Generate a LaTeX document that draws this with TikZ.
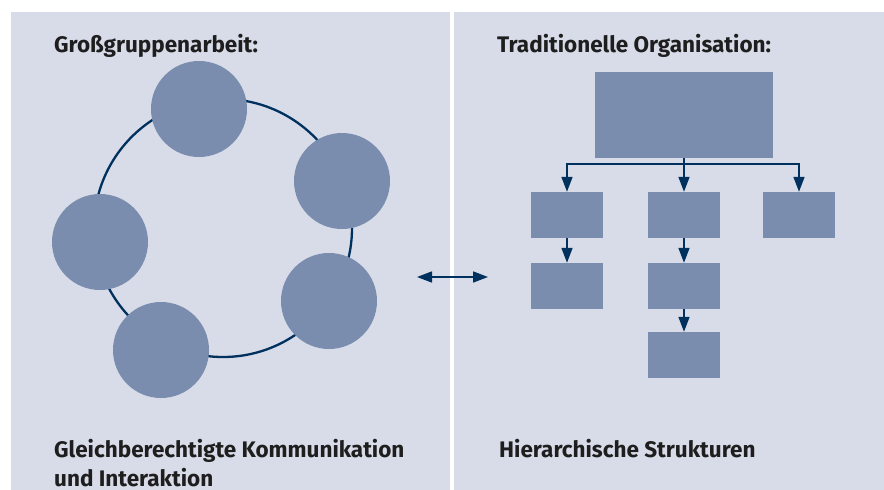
\documentclass[tikz,border=0pt]{standalone}
\usepackage{fontspec}
\setmainfont{Fira Sans}
\usetikzlibrary{arrows.meta,positioning}

\definecolor{panelbg}{HTML}{D8DCE8}
\definecolor{boxfill}{HTML}{7A8DAE}
\definecolor{navy}{HTML}{00305E}
\definecolor{txt}{HTML}{1E1E1E}

\tikzset{
    member/.style={circle, fill=boxfill, minimum size=96pt, inner sep=0pt},
    unit/.style={rectangle, fill=boxfill, minimum width=72pt,
        minimum height=46pt, inner sep=0pt},
    head/.style={rectangle, fill=boxfill, minimum width=178pt,
        minimum height=86pt, inner sep=0pt},
    link/.style={navy, line width=1.6pt,
        -{Triangle[length=15pt,width=11pt]}},
    caption/.style={font=\bfseries\fontsize{22.5}{29}\selectfont,
        text=txt, anchor=base west, inner sep=0pt}
}

\begin{document}
\begin{tikzpicture}[x=1pt,y=-1pt]

    \useasboundingbox (0,0) rectangle (884,490);

    % the two panels
    \fill[panelbg] (11,12) rectangle (450,490);
    \fill[panelbg] (454,12) rectangle (884,490);

    % left panel: group work in a ring
    \node[caption] (lefttitle) at (54,52) {Großgruppenarbeit:};
    \draw[navy, line width=2.3pt] (223,228) circle[radius=129];
    \node[member] (m1) at (199,109) {};
    \node[member] (m2) at (342,181) {};
    \node[member] (m3) at (100,242) {};
    \node[member] (m4) at (329,301) {};
    \node[member] (m5) at (161,350) {};
    \node[caption] (leftnote) at (54,457) {Gleichberechtigte Kommunikation};
    \node[caption] (leftnote2) at (54,486) {und Interaktion};

    % exchange arrow
    \coordinate (swapL) at (417,277);
    \coordinate (swapR) at (488,277);
    \draw[link, {Triangle[length=15pt,width=11pt]}-{Triangle[length=15pt,width=11pt]}]
        (swapL) -- (swapR);

    % right panel: organisation chart
    \node[caption] (righttitle) at (497,52) {Traditionelle Organisation:};
    \node[head] (top) at (684,115) {};
    \node[unit] (b1) at (567,215) {};
    \node[unit] (b2) at (684,215) {};
    \node[unit] (b3) at (799,215) {};
    \node[unit] (c1) at (567,286) {};
    \node[unit] (c2) at (684,286) {};
    \node[unit] (d2) at (684,355) {};
    \coordinate (split) at (684,164);

    \draw[navy, line width=1.6pt] (top.south) -- (split);
    \draw[link] (split) -| (b1.north);
    \draw[link] (split) -- (b2.north);
    \draw[link] (split) -| (b3.north);
    \draw[link] (b1) -- (c1);
    \draw[link] (b2) -- (c2);
    \draw[link] (c2) -- (d2);
    \node[caption] (rightnote) at (499,457) {Hierarchische Strukturen};

\end{tikzpicture}
\end{document}
